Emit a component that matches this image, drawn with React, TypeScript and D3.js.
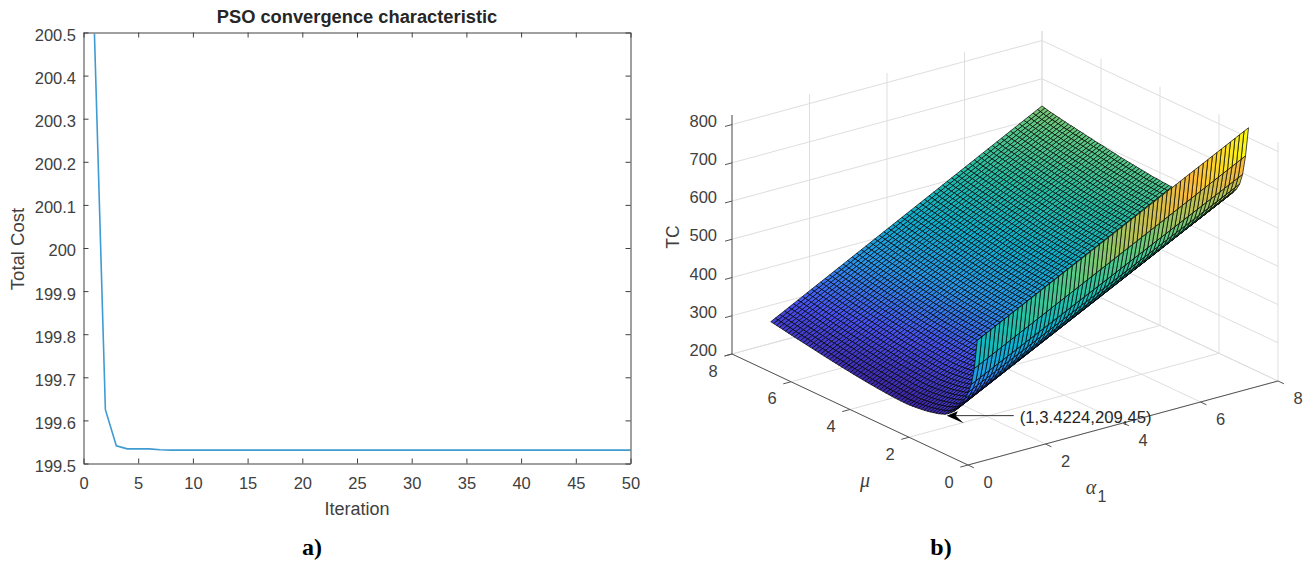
import React, { useEffect, useRef } from "react";
import * as d3 from "d3";

// a) PSO convergence
const iterations = [1, 2, 3, 4, 5, 6, 7, 8, 10, 15, 20, 25, 30, 35, 40, 45, 50];
const totalCost = [200.497, 199.625, 199.541, 199.534, 199.534, 199.534, 199.532, 199.531, 199.531, 199.531, 199.531, 199.531, 199.531, 199.531, 199.531, 199.531, 199.531];
const iterationTicks = [0, 5, 10, 15, 20, 25, 30, 35, 40, 45, 50];
const costTicks = [199.5, 199.6, 199.7, 199.8, 199.9, 200, 200.1, 200.2, 200.3, 200.4, 200.5];

// b) TC surface, read along its two long edges
const muValues = d3.range(0, 71).map((i) => 1 + i / 10);
const tcAtAlphaOne = [
  462, 385, 340, 316, 296, 280, 267, 256, 247, 240,
  234, 229, 226, 223, 221, 219, 217, 215.5, 214, 213,
  212, 211, 210.3, 209.8, 209.5, 209.5, 209.7, 210, 210.4, 210.9,
  211.5, 212.1, 212.8, 213.5, 214.2, 215, 215.8, 216.7, 217.6, 218.5,
  219.5, 220.5, 221.5, 222.6, 223.7, 224.8, 225.9, 227, 228.2, 229.4,
  230.6, 231.8, 233, 234.3, 235.6, 236.9, 238.2, 239.5, 240.8, 242.1,
  243.4, 244.7, 246, 247.4, 248.8, 250.2, 251.6, 253, 254.4, 255.8, 257,
];
const tcAtAlphaEight = [
  826, 749, 697, 668, 652, 640, 631, 621, 612, 604,
  598, 595, 592, 589, 587, 585, 583, 582, 580, 579,
  578, 577, 577, 576, 576, 576, 577, 577, 578, 578,
  579, 580, 580, 581, 582, 583, 584, 585, 586, 587,
  588, 589, 590, 591, 592, 594, 595, 596, 597, 599,
  600, 601, 602, 604, 605, 606, 608, 609, 610, 612,
  613, 614, 616, 617, 619, 620, 622, 623, 625, 627, 629,
];
const alphaStops = 61; // mesh lines along alpha
const axisTicks = [0, 2, 4, 6, 8];
const tcTicks = [200, 300, 400, 500, 600, 700, 800];
const annotationPoint = { alpha: 1, mu: 2, tc: 233, label: "(1,3.4224,209,45)" };

const parula = ["#3e26a8", "#4852f4", "#2797eb", "#0db1cd", "#25bfa5", "#5cc984", "#b8c255", "#fcba3e", "#f9fb15"];

const FONT = "'Liberation Sans', Arial, sans-serif";
const INK = "#404040";

// oblique projection of the 3D box: each scale gives a screen offset for one axis
const ORIGIN = [968, 465];
const alphaX = d3.scaleLinear().domain([0, 8]).range([0, 310]);
const alphaY = d3.scaleLinear().domain([0, 8]).range([0, -84]);
const muX = d3.scaleLinear().domain([0, 8]).range([0, -236]);
const muY = d3.scaleLinear().domain([0, 8]).range([0, -111]);
const tcY = d3.scaleLinear().domain([200, 825]).range([0, -239]);

function project(alpha: number, mu: number, tc = 200): [number, number] {
  return [
    ORIGIN[0] + alphaX(alpha) + muX(mu),
    ORIGIN[1] + alphaY(alpha) + muY(mu) + tcY(tc),
  ];
}

const seg = (a: [number, number], b: [number, number]) => `M${a[0]},${a[1]}L${b[0]},${b[1]}`;

function ConvergencePlot() {
  const xRef = useRef<SVGGElement>(null);
  const yRef = useRef<SVGGElement>(null);
  const topRef = useRef<SVGGElement>(null);
  const rightRef = useRef<SVGGElement>(null);

  const left = 83.5, right = 630.5, top = 32.5, bottom = 463.5;
  const x = d3.scaleLinear().domain([0, 50]).range([left, right]);
  const y = d3.scaleLinear().domain([199.5, 200.5]).range([bottom, top]);
  const line = d3.line<number>().x((d) => x(d)).y((_, i) => y(totalCost[i]));

  useEffect(() => {
    const style = (g: any) => {
      g.attr("font-family", FONT).attr("font-size", 16.5);
      g.selectAll("path,line").attr("stroke", INK);
      g.selectAll("text").attr("fill", INK);
    };
    d3.select(xRef.current!).call(d3.axisBottom(x).tickValues(iterationTicks).tickFormat(d3.format("d")).tickSizeInner(-5).tickSizeOuter(0).tickPadding(13.5)).call(style);
    d3.select(yRef.current!).call(d3.axisLeft(y).tickValues(costTicks).tickFormat((d) => String(d)).tickSizeInner(-5).tickSizeOuter(0).tickPadding(7.5)).call(style);
    d3.select(yRef.current!).selectAll("text").attr("dy", "0.48em");
    d3.select(topRef.current!).call(d3.axisTop(x).tickValues(iterationTicks).tickFormat(() => "").tickSizeInner(-5).tickSizeOuter(0)).call(style);
    d3.select(rightRef.current!).call(d3.axisRight(y).tickValues(costTicks).tickFormat(() => "").tickSizeInner(-5).tickSizeOuter(0)).call(style);
  }, []);

  return (
    <g>
      <path d={line(iterations) ?? ""} fill="none" stroke="#3f9bd2" strokeWidth={1.6} />
      <g ref={xRef} transform={`translate(0,${bottom})`} />
      <g ref={yRef} transform={`translate(${left},0)`} />
      <g ref={topRef} transform={`translate(0,${top})`} />
      <g ref={rightRef} transform={`translate(${right},0)`} />
      <text x={357} y={23} textAnchor="middle" fontFamily={FONT} fontWeight="bold" fontSize={18.3} fill="#262626">PSO convergence characteristic</text>
      <text x={357} y={515} textAnchor="middle" fontFamily={FONT} fontSize={18} fill={INK}>Iteration</text>
      <text transform="translate(24,249) rotate(-90)" textAnchor="middle" fontFamily={FONT} fontSize={18.5} fill={INK}>Total Cost</text>
    </g>
  );
}

function SurfacePlot() {
  const tcMax = 825;
  const colour = d3.scaleLinear<string>()
    .domain(parula.map((_, i) => 209 + (i / (parula.length - 1)) * (826 - 209)))
    .range(parula)
    .interpolate(d3.interpolateRgb);

  const alphaAt = (i: number) => 1 + (7 * i) / (alphaStops - 1);
  const tcAt = (i: number, j: number) => {
    const t = i / (alphaStops - 1);
    return tcAtAlphaOne[j] + t * (tcAtAlphaEight[j] - tcAtAlphaOne[j]);
  };

  // painter's order: far mu first, far alpha first
  const cells: React.ReactNode[] = [];
  for (let j = muValues.length - 2; j >= 0; j--) {
    for (let i = alphaStops - 2; i >= 0; i--) {
      const corners = [
        project(alphaAt(i), muValues[j], tcAt(i, j)),
        project(alphaAt(i + 1), muValues[j], tcAt(i + 1, j)),
        project(alphaAt(i + 1), muValues[j + 1], tcAt(i + 1, j + 1)),
        project(alphaAt(i), muValues[j + 1], tcAt(i, j + 1)),
      ];
      cells.push(
        <polygon key={`${i}-${j}`} points={corners.join(" ")} fill={colour(tcAt(i, j))} stroke="#000" strokeWidth={0.7} />
      );
    }
  }

  const grid: string[] = [];
  axisTicks.forEach((t) => {
    grid.push(seg(project(t, 0), project(t, 8)));
    grid.push(seg(project(0, t), project(8, t)));
    grid.push(seg(project(t, 8), project(t, 8, tcMax)));
    grid.push(seg(project(8, t), project(8, t, tcMax)));
  });
  tcTicks.forEach((z) => {
    grid.push(seg(project(0, 8, z), project(8, 8, z)));
    grid.push(seg(project(8, 8, z), project(8, 0, z)));
  });

  const axes = [
    seg(project(0, 8), project(0, 8, tcMax)),
    seg(project(0, 0), project(0, 8)),
    seg(project(0, 0), project(8, 0)),
  ];
  axisTicks.forEach((t) => {
    axes.push(seg(project(t, 0), project(t, -0.2)));
    axes.push(seg(project(0, t), project(-0.2, t)));
  });
  tcTicks.forEach((z) => axes.push(seg(project(0, 8, z), project(-0.18, 8, z))));

  const tip = project(annotationPoint.alpha, annotationPoint.mu, annotationPoint.tc);
  const labelStyle = { fontFamily: FONT, fontSize: 16.5, fill: INK } as const;

  return (
    <g>
      <path d={grid.join("")} stroke="#dedede" strokeWidth={1} fill="none" />
      <path d={axes.join("")} stroke="#555" strokeWidth={1} fill="none" />
      {cells}
      {tcTicks.map((z) => {
        const [px, py] = project(0, 8, z);
        return <text key={z} x={px - 15} y={py + 2} textAnchor="end" {...labelStyle}>{z}</text>;
      })}
      {axisTicks.map((t) => {
        const [ax, ay] = project(t, 0);
        const [mx, my] = project(0, t);
        return (
          <g key={t}>
            <text x={ax + 20} y={ay + 23} textAnchor="middle" {...labelStyle}>{t}</text>
            <text x={mx - 19} y={my + 22.5} textAnchor="middle" {...labelStyle}>{t}</text>
          </g>
        );
      })}
      <text transform="translate(679,237) rotate(-90)" textAnchor="middle" fontFamily={FONT} fontSize={17.5} fill={INK}>TC</text>
      <text x={865} y={487} textAnchor="middle" fontFamily="'Liberation Serif', serif" fontStyle="italic" fontSize={20} fill={INK}>μ</text>
      <text x={1091} y={494} textAnchor="middle" fontFamily="'Liberation Serif', serif" fontStyle="italic" fontSize={20} fill={INK}>α</text>
      <text x={1102} y={502} textAnchor="middle" fontFamily={FONT} fontSize={16} fill={INK}>1</text>
      <line x1={tip[0] + 8} y1={tip[1] + 1.5} x2={tip[0] + 66} y2={tip[1] + 1.5} stroke="#333" strokeWidth={1} />
      <polygon
        points={[[tip[0] - 1, tip[1] + 1.5], [tip[0] + 16, tip[1] + 9], [tip[0] + 8, tip[1] + 1.5], [tip[0] + 10, tip[1] - 3]].join(" ")}
        fill="#000"
      />
      <text x={tip[0] + 72} y={tip[1] + 9} fontFamily={FONT} fontSize={16.7} fill="#262626">{annotationPoint.label}</text>
    </g>
  );
}

export default function App() {
  const caption = { fontFamily: "'Liberation Serif', serif", fontWeight: "bold", fontSize: 24, fill: "#000" } as const;
  return (
    <svg width={1313} height={563} style={{ position: "absolute", left: 0, top: 0, background: "#fff" }}>
      <ConvergencePlot />
      <SurfacePlot />
      <text x={312} y={555} textAnchor="middle" {...caption}>a)</text>
      <text x={941} y={555} textAnchor="middle" {...caption}>b)</text>
    </svg>
  );
}
